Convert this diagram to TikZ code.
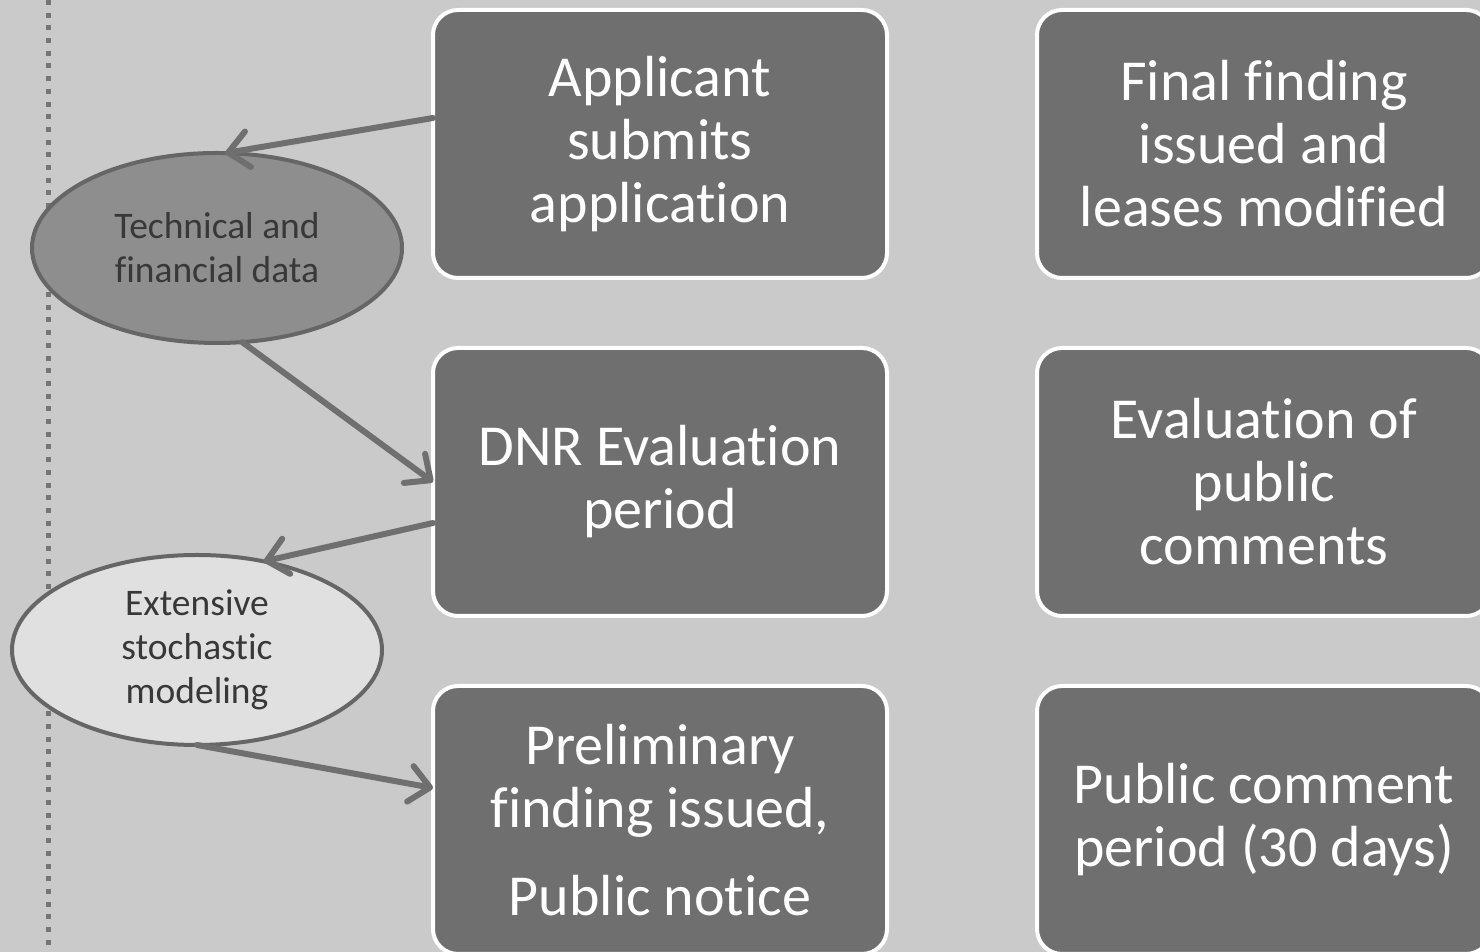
\documentclass[tikz,border=0pt]{standalone}
\usepackage{fontspec}
\setmainfont[Ligatures=NoCommon]{Carlito}
\usetikzlibrary{positioning,shapes.geometric,arrows.meta}

\definecolor{bggray}{HTML}{CACACA}
\definecolor{boxgray}{HTML}{6F6F6F}
\definecolor{rimgray}{HTML}{666666}
\definecolor{darkoval}{HTML}{8E8E8E}
\definecolor{lightoval}{HTML}{E0E0E0}

\begin{document}
\begin{tikzpicture}[x=1pt,y=1pt,
	stagebox/.style={draw=white, line width=4pt, fill=boxgray, rounded corners=25pt,
		minimum width=454pt, minimum height=268pt, outer sep=0pt, align=center,
		text=white, font=\fontsize{58}{63}\selectfont},
	dataoval/.style={ellipse, draw=rimgray, line width=4pt, minimum width=370pt,
		minimum height=190pt, outer sep=0pt, align=center, text=black!78,
		font=\fontsize{37.5}{44}\selectfont},
	flow/.style={draw=boxgray, line width=6pt, line cap=round,
		-{Straight Barb[length=20pt,width=36pt,line width=6pt,round]}},
	node distance=70pt and 150pt]

	\fill[bggray] (0,0) rectangle (1480,952);
	\useasboundingbox (0,0) rectangle (1480,952);
	\clip (0,0) rectangle (1480,952);

	\draw[rimgray!90, line width=5pt, dash pattern=on 5pt off 7.7pt] (48,952) -- (48,0);

	\node[stagebox] (apply) at (660,808) {Applicant\\submits\\application};
	\node[stagebox, below=of apply] (evaluate) {DNR Evaluation\\period};
	\node[stagebox, below=of evaluate] (prelim) {Preliminary\\finding issued,\\[25pt]Public notice};

	\node[stagebox, right=of apply] (final) {Final finding\\issued and\\leases modified};
	\node[stagebox, right=of evaluate] (review) {Evaluation of\\public\\comments};
	\node[stagebox, right=of prelim] (comment) {Public comment\\period (30 days)};

	\node[dataoval, fill=darkoval] (techdata) at (217,704) {Technical and\\financial data};
	\node[dataoval, fill=lightoval] (stochastic) at (197,302) {Extensive\\stochastic\\modeling};

	\draw[flow] ([yshift=26pt]apply.west) -- (techdata.85);
	\draw[flow] (techdata.-75) -- (evaluate.west);
	\draw[flow] ([yshift=-41pt]evaluate.west) -- (stochastic.53);
	\draw[flow] (stochastic.south) -- ([yshift=32pt]prelim.west);

\end{tikzpicture}
\end{document}
